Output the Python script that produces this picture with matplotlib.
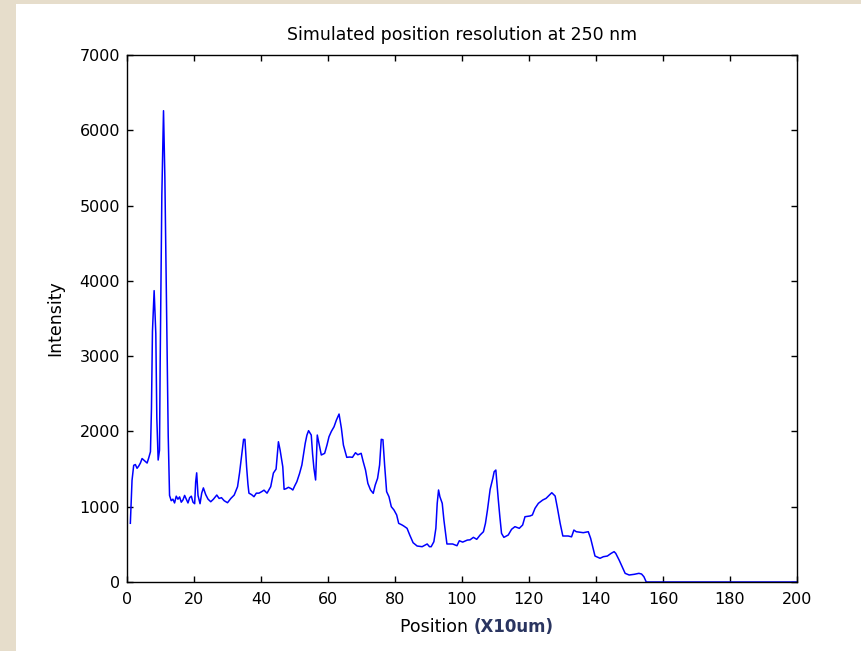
import matplotlib
matplotlib.use('Agg')
import matplotlib.pyplot as plt
from matplotlib.patches import Rectangle

# Intensity profile (position in units of 10 um)
position = [
    1.0, 1.5, 2.0, 2.5, 3.0, 3.5, 4.0, 4.5, 5.0, 5.5, 6.0, 6.5, 7.0, 7.3, 7.6,
    8.1, 8.6, 8.9, 9.3, 9.7, 9.9, 10.4, 10.9, 11.3, 11.8, 12.3, 12.7, 13.2,
    13.7, 14.2, 14.7, 15.2, 15.7, 16.2, 16.7, 17.2, 17.7, 18.2, 18.7, 19.2,
    19.7, 20.2, 20.5, 20.8, 21.2, 21.8, 22.3, 22.8, 23.5, 24.2, 25.0, 25.8,
    26.8, 27.5, 28.2, 29.0, 30.0, 31.0, 32.0, 33.0, 33.6, 34.0, 34.5, 34.8,
    35.2, 35.7, 36.1, 36.4, 37.2, 37.9, 38.6, 39.4, 40.2, 40.9, 41.8, 42.9,
    43.7, 44.5, 45.2, 45.7, 46.5, 46.9, 47.5, 48.2, 49.0, 49.5, 50.1, 50.7,
    51.5, 52.2, 52.7, 53.2, 53.7, 54.2, 55.0, 55.4, 55.8, 56.3, 56.8, 57.3,
    58.0, 59.0, 59.7, 60.3, 61.0, 61.8, 62.5, 63.3, 64.0, 64.6, 65.6, 66.5,
    67.3, 68.2, 68.9, 69.9, 70.5, 71.2, 71.9, 72.7, 73.5, 74.1, 74.8, 75.4,
    75.9, 76.4, 76.9, 77.5, 78.2, 78.9, 79.7, 80.5, 81.1, 82.0, 82.6, 83.6,
    84.4, 85.4, 86.6, 88.1, 89.6, 90.3, 90.8, 91.6, 92.2, 92.6, 93.0, 93.4,
    94.1, 94.6, 95.5, 96.3, 97.2, 98.5, 99.2, 100.2, 101.6, 102.4, 103.4,
    104.4, 105.4, 106.4, 107.0, 107.6, 108.4, 109.2, 109.6, 110.1, 110.3,
    110.8, 111.3, 111.8, 112.5, 113.8, 114.8, 115.8, 117.1, 118.1, 118.8,
    120.3, 121.0, 121.8, 122.8, 124.1, 125.1, 126.1, 126.8, 127.8, 128.5,
    129.3, 130.1, 131.7, 132.7, 133.4, 134.1, 136.2, 137.7, 138.4, 139.0,
    139.7, 141.2, 142.2, 143.4, 144.5, 145.4, 145.9, 146.9, 147.9, 148.7,
    149.9, 151.4, 152.8, 153.6, 154.3, 155.0, 200.0,
]
intensity = [
    780, 1350, 1550, 1560, 1510, 1540, 1580, 1640, 1620, 1600, 1580, 1650,
    1730, 2300, 3330, 3870, 3300, 2180, 1620, 1750, 2900, 5140, 6260, 5380,
    3650, 1950, 1150, 1080, 1100, 1050, 1140, 1100, 1130, 1060, 1090, 1150,
    1100, 1050, 1120, 1140, 1060, 1040, 1330, 1450, 1150, 1040, 1180, 1250,
    1160, 1100, 1066, 1100, 1155, 1110, 1120, 1080, 1053, 1110, 1155, 1266,
    1450, 1600, 1800, 1895, 1895, 1530, 1300, 1180, 1160, 1133, 1180, 1180,
    1200, 1220, 1180, 1266, 1447, 1500, 1863, 1753, 1531, 1231, 1240, 1258,
    1240, 1222, 1280, 1332, 1440, 1554, 1700, 1842, 1950, 2010, 1952, 1700,
    1510, 1355, 1952, 1842, 1687, 1709, 1820, 1930, 2000, 2062, 2150, 2231,
    2041, 1819, 1656, 1660, 1656, 1717, 1690, 1709, 1600, 1487, 1310, 1222,
    1178, 1288, 1377, 1554, 1895, 1890, 1554, 1200, 1133, 1000, 956, 890,
    779, 760, 744, 713, 624, 522, 478, 469, 505, 469, 469, 535, 713, 1045,
    1222, 1133, 1045, 823, 505, 505, 505, 482, 548, 530, 557, 560, 593, 567,
    624, 668, 779, 956, 1231, 1377, 1465, 1487, 1380, 1111, 867, 646, 593,
    624, 700, 735, 713, 757, 867, 877, 890, 979, 1045, 1089, 1111, 1155,
    1186, 1142, 979, 779, 611, 611, 600, 690, 668, 655, 668, 580, 469, 345,
    315, 336, 345, 380, 403, 380, 292, 195, 115, 93, 102, 115, 106, 70, 0, 0,
]

x_ticks = list(range(0, 201, 20))
y_ticks = list(range(0, 7001, 1000))

plt.rcParams['font.family'] = 'DejaVu Sans'

fig = plt.figure(figsize=(8.62, 6.51), dpi=100, facecolor='#e6ddcb')
# white figure panel on the beige page, kept behind the axes
fig.patches.append(Rectangle((16 / 862, 0), 1, 1 - 4 / 651, transform=fig.transFigure,
                             facecolor='white', edgecolor='none', zorder=-5))

ax = fig.add_axes([127 / 862, 1 - 582 / 651, 670 / 862, 527 / 651])
ax.set_zorder(1)
ax.plot(position, intensity, color='#0000ff', linewidth=1.1)

ax.set_xlim(0, 200)
ax.set_ylim(0, 7000)
ax.set_xticks(x_ticks)
ax.set_yticks(y_ticks)
ax.tick_params(direction='in', length=4, width=1, top=True, right=True,
               labelsize=11.5, colors='black')
ax.tick_params(axis='x', pad=7)
ax.tick_params(axis='y', pad=5)
for s in ax.spines.values():
    s.set_linewidth(1.0)

ax.set_title('Simulated position resolution at 250 nm', fontsize=12.5, pad=11)
ax.set_ylabel('Intensity', fontsize=12.5, labelpad=11)
ax.text(0.517, -0.085, 'Position ', transform=ax.transAxes, ha='right', va='center',
        fontsize=12.5)
ax.text(0.517, -0.085, '(X10um)', transform=ax.transAxes, ha='left', va='center',
        fontsize=12, color='#2a3560', fontweight='bold')

plt.savefig('out.png', dpi=100, facecolor=fig.get_facecolor())
